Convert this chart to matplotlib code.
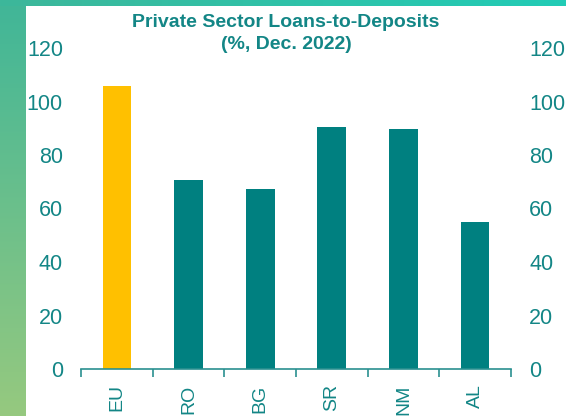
import numpy as np
import matplotlib
matplotlib.use("Agg")
import matplotlib.pyplot as plt
from matplotlib.colors import LinearSegmentedColormap

countries = ["EU", "RO", "BG", "SR", "NM", "AL"]
ratios = [105.8, 70.7, 67.3, 90.5, 89.6, 55.1]
bar_colors = ["#FFC000", "#008080", "#008080", "#008080", "#008080", "#008080"]
yticks = [0, 20, 40, 60, 80, 100, 120]

TEAL = "#138686"
plt.rcParams['font.family'] = ['Liberation Sans', 'DejaVu Sans']

fig = plt.figure(figsize=(5.66, 4.16), dpi=100)
fig.patch.set_facecolor("white")

# green frame: vertical gradient on the left, horizontal one on top
W, H = 566, 416
left = fig.add_axes([0, 0, 26 / W, 1])
left.imshow(np.linspace(0, 1, 256).reshape(-1, 1), aspect="auto",
            cmap=LinearSegmentedColormap.from_list("l", ["#40b698", "#96c97f"]))
left.axis("off")
top = fig.add_axes([0, 1 - 6 / H, 1, 6 / H])
top.imshow(np.linspace(0, 1, 256).reshape(1, -1), aspect="auto",
           cmap=LinearSegmentedColormap.from_list("t", ["#3db79a", "#22ccb6"]))
top.axis("off")

ax = fig.add_axes([81 / W, 1 - 369 / H, 430 / W, (369 - 48) / H])
x = np.arange(len(countries))
ax.bar(x, ratios, width=0.4, color=bar_colors)
ax.set_xlim(-0.5, len(countries) - 0.5)
ax.set_ylim(0, 120)
ax.set_yticks(yticks)
ax.tick_params(axis="y", length=0, labelsize=15.5, labelcolor=TEAL, pad=13,
               labelleft=True, labelright=True)
ax.set_xticks(x)
ax.set_xticklabels(countries, rotation=90, fontsize=14, color=TEAL)
ax.tick_params(axis="x", length=0, pad=11)
# boundary ticks between categories
ax.set_xticks(np.arange(-0.5, len(countries)), minor=True)
ax.tick_params(axis="x", which="minor", length=6, width=1.2, color="#2a9090", direction="out")
for s in ["top", "left", "right"]:
    ax.spines[s].set_visible(False)
ax.spines["bottom"].set_color("#2a9090")
ax.spines["bottom"].set_linewidth(1.2)

fig.text(286 / W, 1 - 33.5 / H, "Private Sector Loans-to-Deposits\n(%, Dec. 2022)",
         ha="center", va="center", fontsize=14, fontweight="bold", color=TEAL,
         linespacing=1.45)

fig.savefig("out.png", dpi=100)
